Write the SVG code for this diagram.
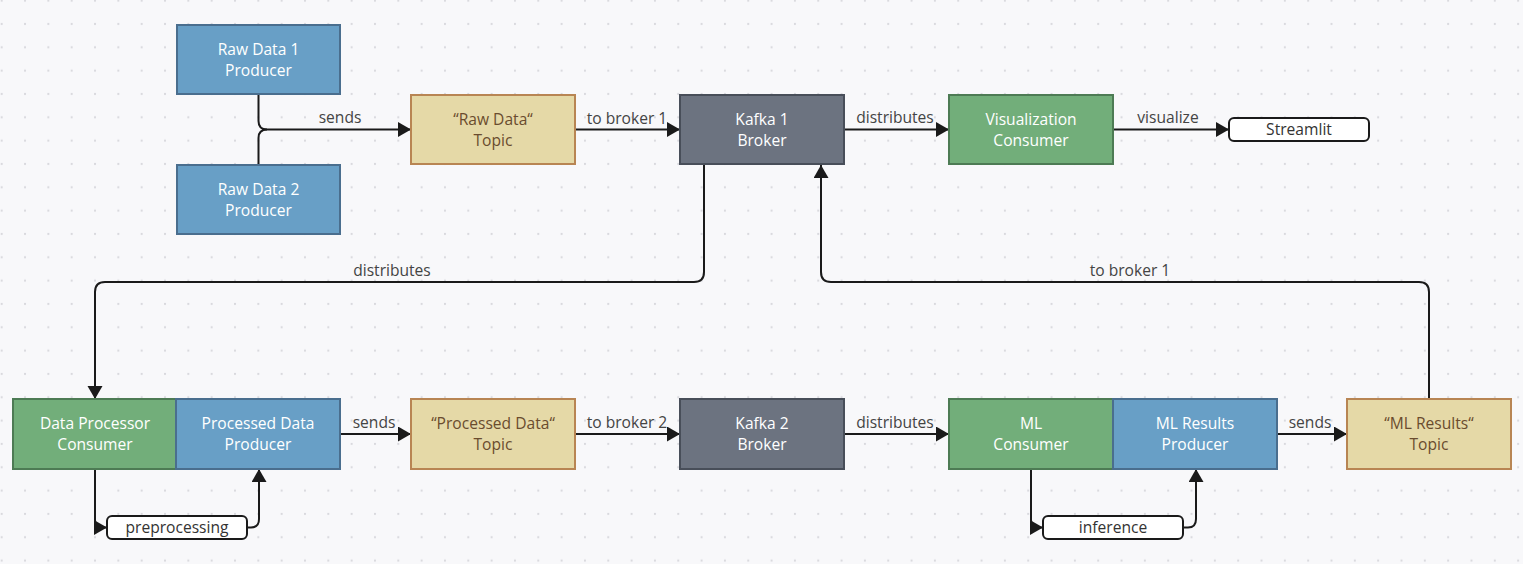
<svg xmlns="http://www.w3.org/2000/svg" width="1523" height="564" viewBox="0 0 1523 564">
<style>
.n rect{stroke-width:2}
.prod{fill:#689fc6;stroke:#4a6e8e}
.cons{fill:#72ae7a;stroke:#4d7b54}
.topic{fill:#e5d9a7;stroke:#b88553}
.broker{fill:#6c7380;stroke:#484e59}
.pill{fill:#ffffff;stroke:#1a1a1a}
.t{font-family:"Open Sans","Noto Sans",sans-serif;font-size:15.6px;text-anchor:middle}
.tw{fill:#ffffff}
.tb{fill:#6a4c2e}
.tk{fill:#333333}
.lbl{font-family:"Open Sans","Noto Sans",sans-serif;font-size:15.6px;text-anchor:middle;fill:#444444}
.c path{fill:none;stroke:#1a1a1a;stroke-width:2}
</style>
<defs>
<pattern id="dots" patternUnits="userSpaceOnUse" x="-9.97" y="-10.97" width="23.33" height="23.33">
<circle cx="11.67" cy="11.67" r="1.1" fill="#d8d8dd"/>
</pattern>
<marker id="arr" markerUnits="userSpaceOnUse" markerWidth="14" markerHeight="16" refX="13" refY="7.5" orient="auto">
<path d="M0,0 L13,7.5 L0,15 z" fill="#1a1a1a"/>
</marker>
</defs>
<rect x="0" y="0" width="1523" height="564" fill="#f8f8fa"/>
<rect x="0" y="0" width="1523" height="564" fill="url(#dots)"/>

<g id="connectors" class="c">
<path d="M258.5,94 V121 Q258.5,129.5 267,129.5 H411" marker-end="url(#arr)"/>
<path d="M258.5,164 V138 Q258.5,129.5 267,129.5"/>
<path d="M575,129.5 H680" marker-end="url(#arr)"/>
<path d="M844,129.5 H949" marker-end="url(#arr)"/>
<path d="M1113,129.5 H1229" marker-end="url(#arr)"/>
<path d="M704,165 V272 Q704,282 694,282 H105 Q95,282 95,292 V399" marker-end="url(#arr)"/>
<path d="M1429,399 V292 Q1429,282 1419,282 H831 Q821,282 821,272 V165" marker-end="url(#arr)"/>
<path d="M340,434 H411" marker-end="url(#arr)"/>
<path d="M575,434 H680" marker-end="url(#arr)"/>
<path d="M844,434 H949" marker-end="url(#arr)"/>
<path d="M1277,434 H1347" marker-end="url(#arr)"/>
<path d="M95,469 V520 Q95,527.5 101,527.5 H107" marker-end="url(#arr)"/>
<path d="M247,527.5 H251 Q259,527.5 259,519 V469" marker-end="url(#arr)"/>
<path d="M1031,469 V520 Q1031,527.5 1037,527.5 H1043" marker-end="url(#arr)"/>
<path d="M1183,527.5 H1188 Q1196,527.5 1196,519 V469" marker-end="url(#arr)"/>
<text class="lbl" x="340" y="123">sends</text>
<text class="lbl" x="627" y="124">to broker 1</text>
<text class="lbl" x="895" y="123">distributes</text>
<text class="lbl" x="1168" y="123">visualize</text>
<text class="lbl" x="392" y="276">distributes</text>
<text class="lbl" x="1130" y="276">to broker 1</text>
<text class="lbl" x="374" y="428">sends</text>
<text class="lbl" x="627" y="428">to broker 2</text>
<text class="lbl" x="895" y="428">distributes</text>
<text class="lbl" x="1310" y="428">sends</text>
</g>

<g id="raw1" class="n"><rect class="prod" x="177" y="25" width="163" height="69"/><text class="t tw" x="258.5" y="55">Raw Data 1</text><text class="t tw" x="258.5" y="76">Producer</text></g>
<g id="raw2" class="n"><rect class="prod" x="177" y="165" width="163" height="69"/><text class="t tw" x="258.5" y="195">Raw Data 2</text><text class="t tw" x="258.5" y="216">Producer</text></g>
<g id="topic-raw" class="n"><rect class="topic" x="411" y="95" width="164" height="69"/><text class="t tb" x="493" y="125">“Raw Data“</text><text class="t tb" x="493" y="146">Topic</text></g>
<g id="kafka1" class="n"><rect class="broker" x="680" y="95" width="164" height="69"/><text class="t tw" x="762" y="125">Kafka 1</text><text class="t tw" x="762" y="146">Broker</text></g>
<g id="viz" class="n"><rect class="cons" x="949" y="95" width="164" height="69"/><text class="t tw" x="1031" y="125">Visualization</text><text class="t tw" x="1031" y="146">Consumer</text></g>
<g id="streamlit" class="n"><rect class="pill" x="1229" y="118" width="140" height="23" rx="5"/><text class="t tk" x="1299" y="135">Streamlit</text></g>

<g id="dpc" class="n"><rect class="cons" x="13" y="399" width="163" height="70"/><text class="t tw" x="95" y="429">Data Processor</text><text class="t tw" x="95" y="450">Consumer</text></g>
<g id="pdp" class="n"><rect class="prod" x="176" y="399" width="164" height="70"/><text class="t tw" x="258" y="429">Processed Data</text><text class="t tw" x="258" y="450">Producer</text></g>
<g id="topic-processed" class="n"><rect class="topic" x="411" y="399" width="164" height="70"/><text class="t tb" x="493" y="429">“Processed Data“</text><text class="t tb" x="493" y="450">Topic</text></g>
<g id="kafka2" class="n"><rect class="broker" x="680" y="399" width="164" height="70"/><text class="t tw" x="762" y="429">Kafka 2</text><text class="t tw" x="762" y="450">Broker</text></g>
<g id="mlc" class="n"><rect class="cons" x="949" y="399" width="164" height="70"/><text class="t tw" x="1031" y="429">ML</text><text class="t tw" x="1031" y="450">Consumer</text></g>
<g id="mlp" class="n"><rect class="prod" x="1113" y="399" width="164" height="70"/><text class="t tw" x="1195" y="429">ML Results</text><text class="t tw" x="1195" y="450">Producer</text></g>
<g id="topic-ml" class="n"><rect class="topic" x="1347" y="399" width="164" height="70"/><text class="t tb" x="1429" y="429">“ML Results“</text><text class="t tb" x="1429" y="450">Topic</text></g>
<g id="preprocessing" class="n"><rect class="pill" x="107" y="516" width="140" height="23" rx="5"/><text class="t tk" x="177" y="533">preprocessing</text></g>
<g id="inference" class="n"><rect class="pill" x="1043" y="516" width="140" height="23" rx="5"/><text class="t tk" x="1113" y="533">inference</text></g>
</svg>
